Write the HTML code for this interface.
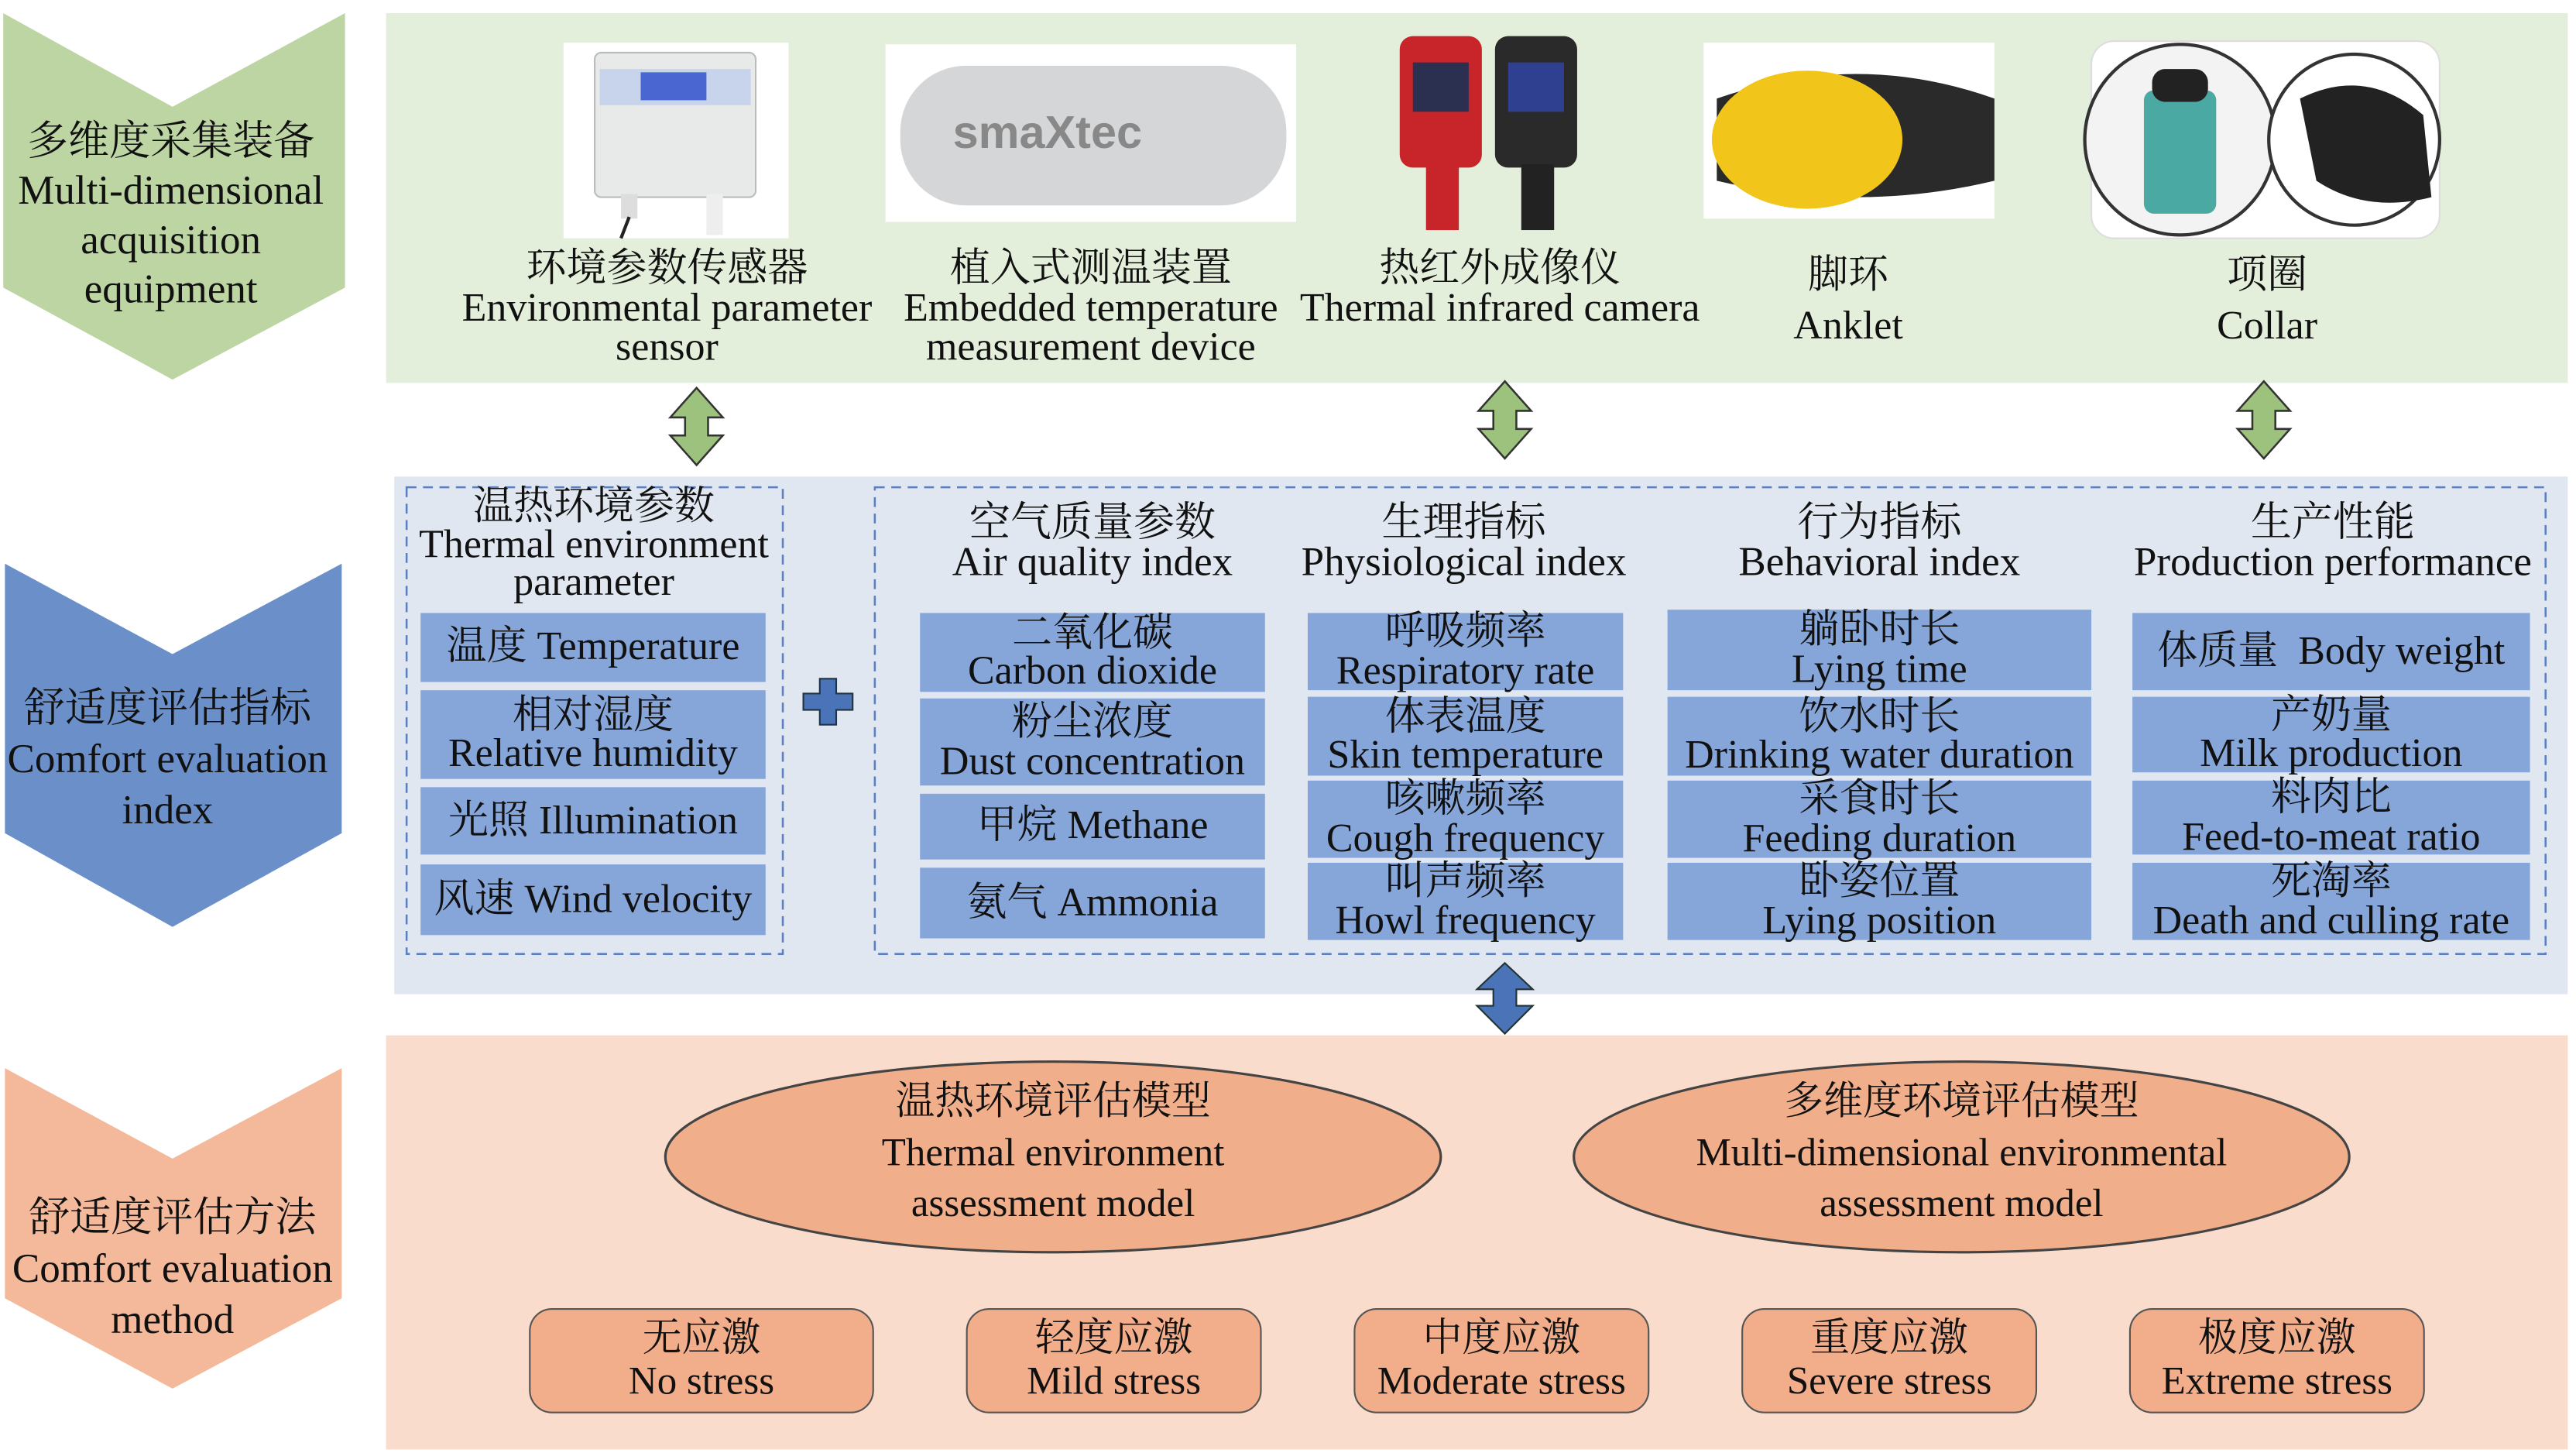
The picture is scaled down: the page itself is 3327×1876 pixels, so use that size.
<!DOCTYPE html>
<html><head><meta charset="utf-8"><style>
html,body{margin:0;padding:0;background:#fff;}
#w{position:relative;width:1568px;height:884px;transform:scale(2.1218);transform-origin:0 0;font-family:"Liberation Serif","Noto Serif CJK SC",serif;color:#111;overflow:hidden;}
.a{position:absolute;}
.t{position:absolute;text-align:center;white-space:nowrap;line-height:1.1;}
.c{position:absolute;background:#86a6da;display:flex;flex-direction:column;align-items:center;justify-content:center;font-size:24.5px;line-height:0.95;white-space:nowrap;}
.r{position:absolute;background:#f2ae8b;border:1.5px solid #555;border-radius:14px;display:flex;flex-direction:column;align-items:center;justify-content:center;font-size:24px;line-height:1.1;}
</style></head><body><div id="w">
<div class="a" style="left:235px;top:8px;width:1328px;height:225px;background:#e4efdb"></div>
<div class="a" style="left:240px;top:290px;width:1323px;height:315px;background:#e1e7f0"></div>
<div class="a" style="left:235px;top:630px;width:1328px;height:252px;background:#f9dccb"></div>
<svg class="a" style="left:0;top:0" width="1568" height="884">
<polygon points="2,8 105,65 210,8 210,175 105,231 2,175" fill="#bcd5a3"/>
<polygon points="3,343 105,398 208,343 208,507 105,564 3,507" fill="#6b90c9"/>
<polygon points="3,650 105,705 208,650 208,790 105,845 3,790" fill="#f4b99a"/>
<g fill="#9cc27e" stroke="#333" stroke-width="1.2">
<polygon points="424,236 440,254 431,254 431,265 440,265 424,283 408,265 417,265 417,254 408,254"/>
<polygon points="916,232 932,250 923,250 923,261 932,261 916,279 900,261 909,261 909,250 900,250"/>
<polygon points="1378,232 1394,250 1385,250 1385,261 1394,261 1378,279 1362,261 1371,261 1371,250 1362,250"/>
</g>
<polygon points="916,586 933,602 923,602 923,612 933,612 916,629 899,612 909,612 909,602 899,602" fill="#4a73b8" stroke="#233" stroke-width="1"/>
<polygon points="499,413 509,413 509,422 519,422 519,432 509,432 509,441 499,441 499,432 489,432 489,422 499,422" fill="#4a73b8" stroke="#234" stroke-width="1"/>
<rect x="247.5" y="296.5" width="229" height="284" fill="none" stroke="#5b7fc0" stroke-width="1.2" stroke-dasharray="6,4"/>
<rect x="532.5" y="296.5" width="1017" height="284" fill="none" stroke="#5b7fc0" stroke-width="1.2" stroke-dasharray="6,4"/>
<ellipse cx="641" cy="704" rx="236" ry="58" fill="#f0ae8a" stroke="#444" stroke-width="1.5"/>
<ellipse cx="1194" cy="704" rx="236" ry="58" fill="#f0ae8a" stroke="#444" stroke-width="1.5"/>
<rect x="343" y="26" width="137" height="119" fill="#fff"/>
<rect x="362" y="32" width="98" height="88" rx="4" fill="#e8eaea" stroke="#bbb"/>
<rect x="365" y="42" width="92" height="22" fill="#c8d4ec"/>
<rect x="390" y="44" width="40" height="17" fill="#4a66d0"/>
<rect x="378" y="118" width="10" height="15" fill="#ddd"/><rect x="430" y="118" width="10" height="25" fill="#eee"/>
<path d="M383,132 L378,145" stroke="#222" stroke-width="2"/>
<rect x="539" y="27" width="250" height="108" fill="#fff"/>
<rect x="548" y="40" width="235" height="85" rx="40" fill="#d4d6d8"/>
<text x="580" y="90" font-family="Liberation Sans" font-size="28" font-weight="bold" fill="#888">smaXtec</text>
<rect x="852" y="22" width="50" height="80" rx="8" fill="#c8252b"/><rect x="860" y="38" width="34" height="30" fill="#2b3050"/>
<rect x="868" y="100" width="20" height="40" fill="#c8252b"/>
<rect x="910" y="22" width="50" height="80" rx="8" fill="#2a2a2a"/><rect x="918" y="38" width="34" height="30" fill="#304090"/>
<rect x="926" y="100" width="20" height="40" fill="#222"/>
<rect x="1037" y="26" width="177" height="107" fill="#fff"/>
<path d="M1045,60 Q1130,30 1214,60 L1214,110 Q1130,130 1045,110 Z" fill="#2a2a2a"/>
<ellipse cx="1100" cy="85" rx="58" ry="42" fill="#f2c51a"/>
<rect x="1273" y="25" width="212" height="120" rx="14" fill="#fff" stroke="#ddd"/>
<circle cx="1327" cy="85" r="58" fill="#f3f3f3" stroke="#333" stroke-width="2"/>
<rect x="1305" y="55" width="44" height="75" rx="6" fill="#4aa9a3"/><rect x="1310" y="42" width="34" height="20" rx="8" fill="#222"/>
<circle cx="1433" cy="85" r="52" fill="#fff" stroke="#333" stroke-width="2"/>
<path d="M1400,60 Q1440,40 1475,70 L1480,120 Q1440,130 1410,110 Z" fill="#222"/>
</svg>
<div class="t" style="left:0;top:72px;width:208px;font-size:25px;line-height:30px">多维度采集装备<br>Multi-dimensional<br>acquisition<br>equipment</div>
<div class="t" style="left:0;top:416px;width:204px;font-size:25px;line-height:31px">舒适度评估指标<br>Comfort evaluation<br>index</div>
<div class="t" style="left:0;top:726px;width:210px;font-size:25px;line-height:31px">舒适度评估方法<br>Comfort evaluation<br>method</div>
<div class="t" style="left:276px;top:152px;width:260px;font-size:24.5px;line-height:24px">环境参数传感器<br>Environmental parameter<br>sensor</div>
<div class="t" style="left:540px;top:152px;width:248px;font-size:24.5px;line-height:24px">植入式测温装置<br>Embedded temperature<br>measurement device</div>
<div class="t" style="left:786px;top:152px;width:254px;font-size:24.5px;line-height:24px">热红外成像仪<br>Thermal infrared camera</div>
<div class="t" style="left:1040px;top:152px;width:170px;font-size:24.5px;line-height:31px">脚环<br>Anklet</div>
<div class="t" style="left:1300px;top:152px;width:160px;font-size:24.5px;line-height:31px">项圈<br>Collar</div>
<div class="t" style="left:247px;top:297px;width:229px;font-size:24.5px;line-height:23px">温热环境参数<br>Thermal environment<br>parameter</div>
<div class="t" style="left:560px;top:307px;width:210px;font-size:25px;line-height:24px">空气质量参数<br>Air quality index</div>
<div class="t" style="left:780px;top:307px;width:222px;font-size:25px;line-height:24px">生理指标<br>Physiological index</div>
<div class="t" style="left:1015px;top:307px;width:258px;font-size:25px;line-height:24px">行为指标<br>Behavioral index</div>
<div class="t" style="left:1290px;top:307px;width:260px;font-size:25px;line-height:24px">生产性能<br>Production performance</div>
<div class="c" style="left:256px;top:373px;width:210px;height:42px">温度 Temperature</div>
<div class="c" style="left:256px;top:420px;width:210px;height:54px"><span>相对湿度</span><span>Relative humidity</span></div>
<div class="c" style="left:256px;top:479px;width:210px;height:41px">光照 Illumination</div>
<div class="c" style="left:256px;top:526px;width:210px;height:43px">风速 Wind velocity</div>
<div class="c" style="left:560px;top:373px;width:210px;height:48px"><span>二氧化碳</span><span>Carbon dioxide</span></div>
<div class="c" style="left:560px;top:425px;width:210px;height:53px"><span>粉尘浓度</span><span>Dust concentration</span></div>
<div class="c" style="left:560px;top:483px;width:210px;height:40px">甲烷 Methane</div>
<div class="c" style="left:560px;top:528px;width:210px;height:43px">氨气 Ammonia</div>
<div class="c" style="left:796px;top:373px;width:192px;height:47px"><span>呼吸频率</span><span>Respiratory rate</span></div>
<div class="c" style="left:796px;top:424px;width:192px;height:48px"><span>体表温度</span><span>Skin temperature</span></div>
<div class="c" style="left:796px;top:475px;width:192px;height:47px"><span>咳嗽频率</span><span>Cough frequency</span></div>
<div class="c" style="left:796px;top:525px;width:192px;height:47px"><span>叫声频率</span><span>Howl frequency</span></div>
<div class="c" style="left:1015px;top:371px;width:258px;height:49px"><span>躺卧时长</span><span>Lying time</span></div>
<div class="c" style="left:1015px;top:424px;width:258px;height:48px"><span>饮水时长</span><span>Drinking water duration</span></div>
<div class="c" style="left:1015px;top:475px;width:258px;height:47px"><span>采食时长</span><span>Feeding duration</span></div>
<div class="c" style="left:1015px;top:525px;width:258px;height:47px"><span>卧姿位置</span><span>Lying position</span></div>
<div class="c" style="left:1298px;top:373px;width:242px;height:47px">体质量&nbsp; Body weight</div>
<div class="c" style="left:1298px;top:424px;width:242px;height:46px"><span>产奶量</span><span>Milk production</span></div>
<div class="c" style="left:1298px;top:475px;width:242px;height:45px"><span>料肉比</span><span>Feed-to-meat ratio</span></div>
<div class="c" style="left:1298px;top:525px;width:242px;height:47px"><span>死淘率</span><span>Death and culling rate</span></div>
<div class="t" style="left:440px;top:656px;width:402px;font-size:24px;line-height:31px">温热环境评估模型<br>Thermal environment<br>assessment model</div>
<div class="t" style="left:990px;top:656px;width:408px;font-size:24px;line-height:31px">多维度环境评估模型<br>Multi-dimensional environmental<br>assessment model</div>
<div class="r" style="left:322px;top:796px;width:208px;height:62px"><span>无应激</span><span>No stress</span></div>
<div class="r" style="left:588px;top:796px;width:178px;height:62px"><span>轻度应激</span><span>Mild stress</span></div>
<div class="r" style="left:824px;top:796px;width:178px;height:62px"><span>中度应激</span><span>Moderate stress</span></div>
<div class="r" style="left:1060px;top:796px;width:178px;height:62px"><span>重度应激</span><span>Severe stress</span></div>
<div class="r" style="left:1296px;top:796px;width:178px;height:62px"><span>极度应激</span><span>Extreme stress</span></div>
</div></body></html>
